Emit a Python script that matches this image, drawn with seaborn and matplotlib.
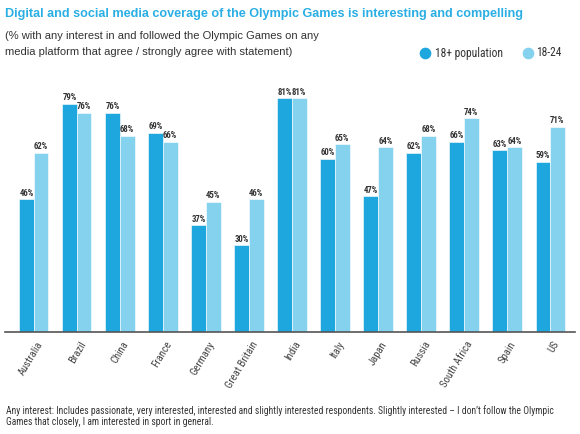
import pandas as pd
import numpy as np
import matplotlib
matplotlib.use('Agg')
import matplotlib.pyplot as plt
import matplotlib.transforms as mtransforms
import matplotlib.font_manager as fm
from matplotlib.lines import Line2D
import seaborn as sns

countries = ['Australia', 'Brazil', 'China', 'France', 'Germany', 'Great Britain', 'India',
             'Italy', 'Japan', 'Russia', 'South Africa', 'Spain', 'US']
population_18plus = [46, 79, 76, 69, 37, 30, 81, 60, 47, 62, 66, 63, 59]
age_18_24 = [62, 76, 68, 66, 45, 46, 81, 65, 64, 68, 74, 64, 71]
series_names = ['18+ population', '18-24']

DARK = '#1EA7DE'
LIGHT = '#84D2EE'
TITLE_BLUE = '#2AAEE4'
TEXT = '#333333'
REGULAR = ['Liberation Sans', 'DejaVu Sans']


def pick_narrow():
    """Find an installed narrow / condensed sans face, else plain Liberation Sans."""
    names = {f.name for f in fm.fontManager.ttflist}
    for name in ['Liberation Sans Narrow', 'Arial Narrow', 'Roboto Condensed', 'Open Sans Condensed']:
        if name in names:
            return [name, 'DejaVu Sans'], 'normal'
    for f in fm.fontManager.ttflist:
        if f.stretch == 'condensed' and 'Sans' in f.name and 'Mono' not in f.name:
            return [f.name, 'DejaVu Sans'], 'condensed'
    return REGULAR, 'normal'


NARROW, NARROW_STRETCH = pick_narrow()


def fit_width(fig, text, target_px):
    """Scale a text's font size so that it spans target_px pixels."""
    renderer = fig.canvas.get_renderer()
    width = text.get_window_extent(renderer).width
    text.set_fontsize(text.get_fontsize() * target_px / width)


df = pd.DataFrame({
    'country': countries * 2,
    'value': population_18plus + age_18_24,
    'group': [series_names[0]] * len(countries) + [series_names[1]] * len(countries),
})

sns.set_theme(style='white')
plt.rcParams['font.family'] = REGULAR

fig = plt.figure(figsize=(5.8, 4.34), dpi=100)
ax = fig.add_axes([5 / 580, 1 - 332 / 434, 570 / 580, 242.4 / 434])

sns.barplot(data=df, x='country', y='value', hue='group', palette=[DARK, LIGHT],
            width=0.675, gap=0, saturation=1, edgecolor='white', linewidth=0.4,
            legend=False, ax=ax)

for container in ax.containers:
    ax.bar_label(container, fmt='%d%%', padding=1.2, fontsize=6.3, fontweight='bold',
                 color=TEXT, family=NARROW, fontstretch=NARROW_STRETCH)

ax.set_xlim(-0.674, 12.581)
ax.set_ylim(0, 84)
ax.set_xlabel('')
ax.set_ylabel('')
ax.set_yticks([])
sns.despine(ax=ax, left=True)
ax.spines['bottom'].set_color('#555555')
ax.spines['bottom'].set_linewidth(1.2)

ax.tick_params(axis='x', length=0, pad=0)
offset = mtransforms.ScaledTranslation(0.065, -0.10, fig.dpi_scale_trans)
for label in ax.get_xticklabels():
    label.set_rotation(59)
    label.set_ha('right')
    label.set_va('center')
    label.set_rotation_mode('anchor')
    label.set_fontsize(7.7)
    label.set_family(NARROW)
    label.set_fontstretch(NARROW_STRETCH)
    label.set_color('#444444')
    label.set_transform(label.get_transform() + offset)

title = fig.text(5 / 580, 1 - 14 / 434,
                 'Digital and social media coverage of the Olympic Games is interesting and compelling',
                 ha='left', va='center', fontsize=9, fontweight='bold', color=TITLE_BLUE)
sub1 = fig.text(5 / 580, 1 - 36 / 434, '(% with any interest in and followed the Olympic Games on any',
                ha='left', va='center', fontsize=7.9, color=TEXT)
sub2 = fig.text(5 / 580, 1 - 52 / 434, 'media platform that agree / strongly agree with statement)',
                ha='left', va='center', fontsize=7.9, color=TEXT)

# legend drawn by hand so it sits where the reference has it
for x_dot, x_text, colour, name in [(425, 435, DARK, series_names[0]), (528, 536, LIGHT, series_names[1])]:
    fig.add_artist(Line2D([x_dot / 580], [1 - 53 / 434], transform=fig.transFigure,
                          marker='o', markersize=7.4, color=colour, linestyle=''))
    fig.text(x_text / 580, 1 - 53 / 434, name, ha='left', va='center', fontsize=8.3,
             color=TEXT, family=NARROW, fontstretch=NARROW_STRETCH)

foot1 = fig.text(6 / 580, 1 - 411 / 434,
                 'Any interest: Includes passionate, very interested, interested and slightly interested respondents. '
                 'Slightly interested \u2013 I don\u2019t follow the Olympic',
                 ha='left', va='center', fontsize=6.6, color=TEXT, family=NARROW,
                 fontstretch=NARROW_STRETCH)
foot2 = fig.text(6 / 580, 1 - 422 / 434, 'Games that closely, I am interested in sport in general.',
                 ha='left', va='center', fontsize=6.6, color=TEXT, family=NARROW,
                 fontstretch=NARROW_STRETCH)

fig.canvas.draw()
fit_width(fig, title, 517)
fit_width(fig, sub1, 312)
sub2.set_fontsize(sub1.get_fontsize())
fit_width(fig, foot1, 546)
foot2.set_fontsize(foot1.get_fontsize())

fig.savefig('out.png', dpi=100)
